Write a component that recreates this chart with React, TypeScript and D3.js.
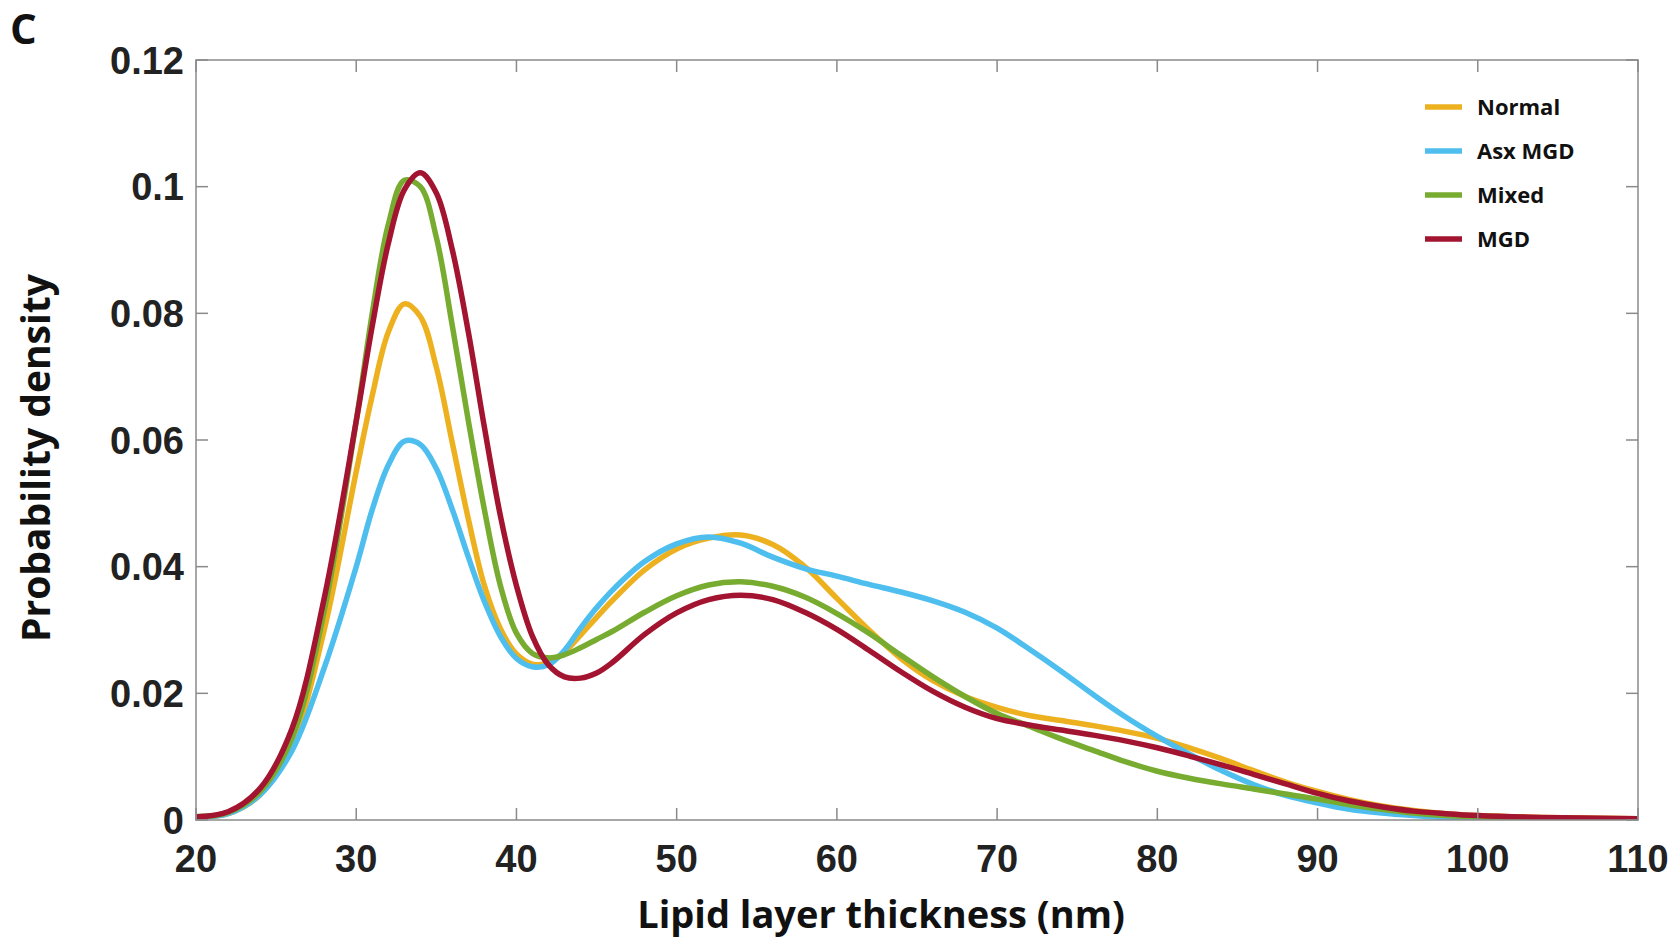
import React from "react";
import * as d3 from "d3";

const xTicks = [20, 30, 40, 50, 60, 70, 80, 90, 100, 110];
const yTicks = [0, 0.02, 0.04, 0.06, 0.08, 0.1, 0.12];
const yTickLabels = ["0", "0.02", "0.04", "0.06", "0.08", "0.1", "0.12"];

const xs = [20, 22, 24, 26, 28, 30, 31, 32, 33, 34, 35, 36, 37, 38, 39, 40, 41, 42, 43, 44, 45, 46, 48, 50, 52, 54, 56, 58, 60, 62, 64, 66, 68, 70, 72, 74, 76, 78, 80, 82, 84, 86, 88, 90, 92, 94, 96, 98, 100, 104, 110];

const normal = [0.0005, 0.001, 0.004, 0.012, 0.03, 0.055, 0.067, 0.077, 0.0815, 0.0795, 0.0715, 0.0595, 0.0475, 0.037, 0.0302, 0.0262, 0.0246, 0.0248, 0.0265, 0.0292, 0.032, 0.0347, 0.0395, 0.0428, 0.0445, 0.045, 0.0435, 0.04, 0.035, 0.03, 0.0255, 0.022, 0.0195, 0.0178, 0.0165, 0.0157, 0.0149, 0.014, 0.0129, 0.0114, 0.0097, 0.0078, 0.006, 0.0045, 0.0032, 0.0022, 0.0015, 0.001, 0.0007, 0.0004, 0.0002];
const asxMgd = [0.0005, 0.001, 0.004, 0.011, 0.024, 0.04, 0.049, 0.056, 0.0598, 0.0593, 0.0555, 0.049, 0.0415, 0.0345, 0.029, 0.0255, 0.0242, 0.0245, 0.0268, 0.0303, 0.0335, 0.0363, 0.0408, 0.0436, 0.0447, 0.0437, 0.0415, 0.0397, 0.0385, 0.0372, 0.036, 0.0346, 0.0328, 0.0303, 0.027, 0.0235, 0.0198, 0.0163, 0.0132, 0.0104, 0.0078, 0.0056, 0.0039, 0.0027, 0.0017, 0.0011, 0.0007, 0.0004, 0.0002, 0.0001, 0.0001];
const mixed = [0.0005, 0.0012, 0.0045, 0.013, 0.033, 0.063, 0.08, 0.094, 0.101, 0.1, 0.092, 0.078, 0.063, 0.049, 0.037, 0.0295, 0.0263, 0.0256, 0.0261, 0.0272, 0.0285, 0.0298, 0.0328, 0.0354, 0.0371, 0.0376, 0.0369, 0.0352, 0.0326, 0.0295, 0.026, 0.0226, 0.0195, 0.0168, 0.0148, 0.0128, 0.011, 0.0092, 0.0077, 0.0066, 0.0057, 0.0049, 0.0041, 0.0033, 0.0024, 0.0017, 0.0011, 0.0007, 0.0005, 0.0002, 0.0001];
const mgd = [0.0005, 0.0013, 0.005, 0.0145, 0.035, 0.063, 0.078, 0.091, 0.0995, 0.1022, 0.099, 0.09, 0.077, 0.062, 0.048, 0.037, 0.029, 0.0245, 0.0226, 0.0224, 0.0232, 0.0249, 0.0293, 0.0327, 0.0348, 0.0355, 0.0348, 0.0328, 0.0301, 0.0268, 0.0234, 0.0203, 0.0178, 0.016, 0.015, 0.0142, 0.0134, 0.0125, 0.0114, 0.0101, 0.0087, 0.0072, 0.0057, 0.0042, 0.003, 0.0021, 0.0014, 0.001, 0.0007, 0.0004, 0.0002];

const seriesNames = ["Normal", "Asx MGD", "Mixed", "MGD"];
const seriesValues = [normal, asxMgd, mixed, mgd];
const seriesColors = ["#EDB120", "#4DBEEE", "#77AC30", "#A2142F"];

export default function App() {
  const W = 1680, H = 950;
  const left = 196, right = 1638, top = 60, bottom = 820;
  const x = d3.scaleLinear().domain([20, 110]).range([left, right]);
  const y = d3.scaleLinear().domain([0, 0.12]).range([bottom, top]);
  const line = d3
    .line<[number, number]>()
    .x((d) => x(d[0]))
    .y((d) => y(d[1]))
    .curve(d3.curveCatmullRom.alpha(0.5));
  const axisColor = "#8a8a8a";
  const tickLen = 12;
  const tickFont = "'Liberation Sans', Arial, sans-serif";
  const labelFont = "'Open Sans', sans-serif";

  return (
    <svg width={W} height={H} style={{ position: "absolute", left: 0, top: 0, background: "#fff" }}>
      <text x={10} y={44} fontFamily={labelFont} fontWeight={700} fontSize={42} fill="#111">C</text>
      <g clipPath="url(#clip)">
        {seriesValues.map((vals, i) => (
          <path
            key={seriesNames[i]}
            d={line(xs.map((xv, j) => [xv, vals[j]] as [number, number])) || ""}
            fill="none"
            stroke={seriesColors[i]}
            strokeWidth={5.5}
            strokeLinejoin="round"
          />
        ))}
      </g>
      <rect x={left} y={top} width={right - left} height={bottom - top} fill="none" stroke={axisColor} strokeWidth={1.5} />
      {xTicks.map((t) => (
        <g key={"x" + t}>
          <line x1={x(t)} x2={x(t)} y1={bottom} y2={bottom - tickLen} stroke={axisColor} strokeWidth={1.5} />
          <line x1={x(t)} x2={x(t)} y1={top} y2={top + tickLen} stroke={axisColor} strokeWidth={1.5} />
          <text x={x(t)} y={bottom + 52} textAnchor="middle" fontFamily={tickFont} fontWeight={700} fontSize={38} fill="#222">{t}</text>
        </g>
      ))}
      {yTicks.map((t, i) => (
        <g key={"y" + t}>
          <line x1={left} x2={left + tickLen} y1={y(t)} y2={y(t)} stroke={axisColor} strokeWidth={1.5} />
          <line x1={right} x2={right - tickLen} y1={y(t)} y2={y(t)} stroke={axisColor} strokeWidth={1.5} />
          <text x={184} y={y(t)} dy="0.36em" textAnchor="end" fontFamily={tickFont} fontWeight={700} fontSize={38} fill="#222">{yTickLabels[i]}</text>
        </g>
      ))}
      <text x={881} y={928} textAnchor="middle" fontFamily={labelFont} fontWeight={700} fontSize={38} fill="#111">Lipid layer thickness (nm)</text>
      <text transform={`translate(50, 458) rotate(-90)`} textAnchor="middle" fontFamily={labelFont} fontWeight={700} fontSize={39} fill="#111">Probability density</text>
      {seriesNames.map((n, i) => (
        <g key={"lg" + n}>
          <line x1={1425} x2={1462} y1={107 + i * 44} y2={107 + i * 44} stroke={seriesColors[i]} strokeWidth={5.5} />
          <text x={1477} y={107 + i * 44} dy="0.35em" fontFamily={labelFont} fontWeight={700} fontSize={22} fill="#111">{n}</text>
        </g>
      ))}
      <defs>
        <clipPath id="clip">
          <rect x={left} y={top - 5} width={right - left} height={bottom - top + 5} />
        </clipPath>
      </defs>
    </svg>
  );
}
